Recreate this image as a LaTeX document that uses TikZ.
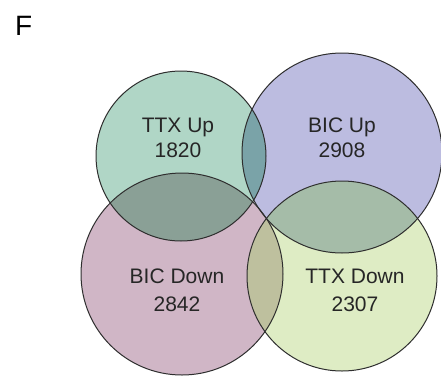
\documentclass[tikz,border=0pt]{standalone}
\usepackage{fontspec}
\setmainfont{Liberation Sans}
% single-set colours
\definecolor{ttxup}{RGB}{176,214,198}
\definecolor{bicup}{RGB}{188,188,224}
\definecolor{bicdown}{RGB}{208,182,198}
\definecolor{ttxdown}{RGB}{222,236,196}
% pairwise overlap colours
\definecolor{upup}{RGB}{122,163,168}
\definecolor{ttxmix}{RGB}{138,160,150}
\definecolor{bicmix}{RGB}{165,188,168}
\definecolor{downdown}{RGB}{190,192,158}
\definecolor{rim}{HTML}{2E2E2E}
\begin{document}
\begin{tikzpicture}[x=1pt,y=-1pt,
  setcircle/.style={draw=rim,line width=1pt},
  setlabel/.style={anchor=base,font=\fontsize{21}{25}\selectfont,text=black!85,inner sep=0pt}]
\useasboundingbox (0,0) rectangle (441,375);
\fill[white] (0,0) rectangle (441,375);
\node[anchor=base west,inner sep=0pt,font=\fontsize{28}{30}\selectfont] (panel) at (15,35) {F};
% circle geometry
\def\cTU{(181,156) circle (85)}
\def\cBU{(342,153) circle (100)}
\def\cBD{(182,274) circle (101)}
\def\cTD{(342,276) circle (95)}
% single sets
\fill[ttxup]   \cTU;
\fill[bicup]   \cBU;
\fill[bicdown] \cBD;
\fill[ttxdown] \cTD;
% pairwise overlaps
\begin{scope}\clip \cTU; \fill[upup] \cBU; \end{scope}
\begin{scope}\clip \cTU; \fill[ttxmix] \cBD; \end{scope}
\begin{scope}\clip \cBU; \fill[bicmix] \cTD; \end{scope}
\begin{scope}\clip \cBD; \fill[downdown] \cTD; \end{scope}
% outlines
\draw[setcircle] \cTU;
\draw[setcircle] \cBU;
\draw[setcircle] \cBD;
\draw[setcircle] \cTD;
% set names and counts
\node[setlabel] (tu) at (178,132) {TTX Up};
\node[setlabel] (tun) at (178,157) {1820};
\node[setlabel] (bu) at (342,132) {BIC Up};
\node[setlabel] (bun) at (342,157) {2908};
\node[setlabel] (bd) at (177,283) {BIC Down};
\node[setlabel] (bdn) at (177,311) {2842};
\node[setlabel] (td) at (355,283) {TTX Down};
\node[setlabel] (tdn) at (355,311) {2307};
\end{tikzpicture}
\end{document}
